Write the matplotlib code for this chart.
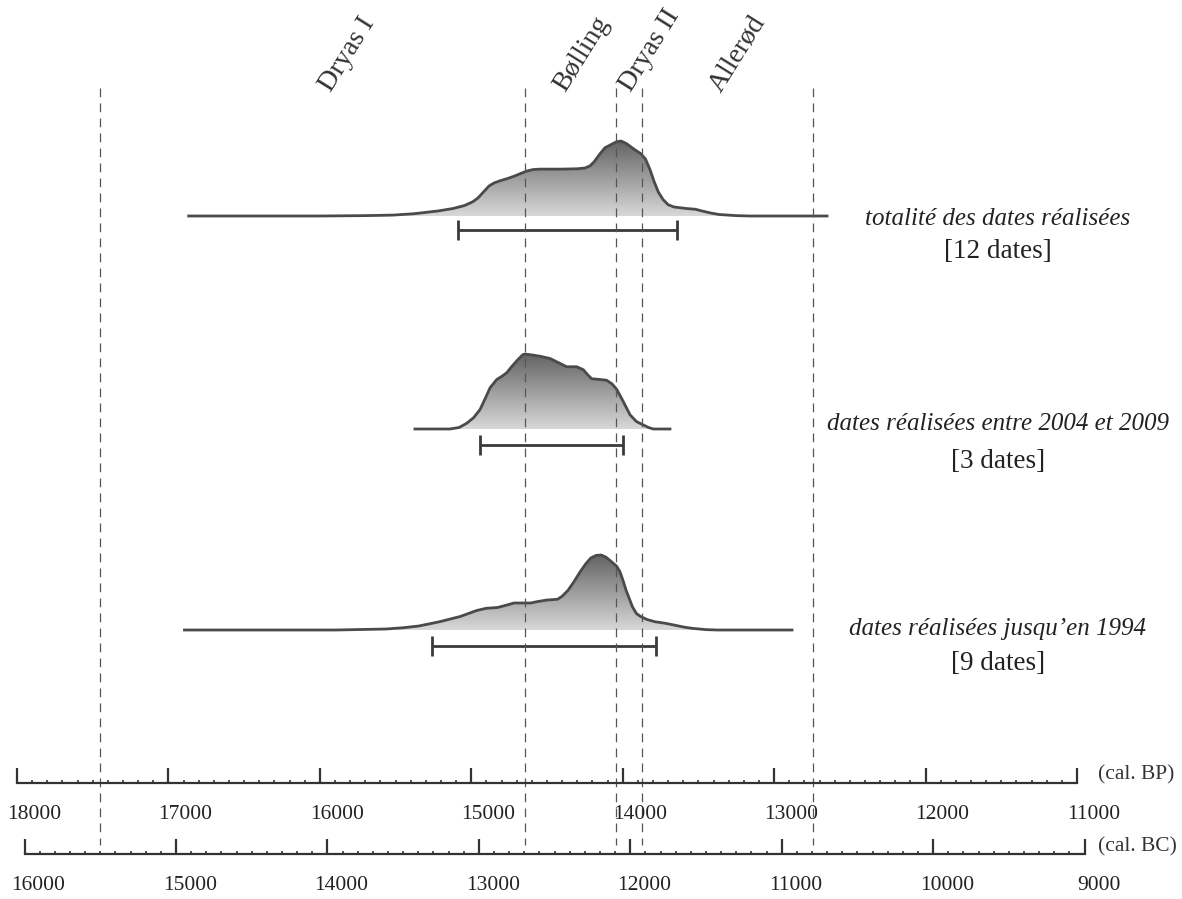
import numpy as np
import matplotlib.pyplot as plt
from matplotlib.colors import LinearSegmentedColormap
from matplotlib.patches import Polygon
from matplotlib.transforms import ScaledTranslation

plt.rcParams['font.family'] = ['Liberation Serif', 'DejaVu Serif']

# climatic periods, boundaries in years cal. BP
period_names = ['Dryas I', 'Bølling', 'Dryas II', 'Allerød']
period_label_bp = [15930, 14380, 13945, 13350]
boundaries_bp = [17450, 14645, 14045, 13875, 12745]

# summed probability curves (years cal. BP, relative density)
all_bp = [16866, 16000, 15700, 15517, 15380, 15220, 15120, 15044, 14990, 14956,
          14915, 14883, 14850, 14810, 14760, 14718, 14670, 14632, 14590, 14543,
          14400, 14300, 14249, 14215, 14190, 14150, 14117, 14070, 14040, 14011,
          13975, 13925, 13880, 13850, 13820, 13793, 13765, 13734, 13700, 13661,
          13580, 13520, 13483, 13420, 13364, 13250, 13160, 12651]
all_dens = [0, 0, 0.005, 0.012, 0.03, 0.067, 0.10, 0.14, 0.19, 0.24,
            0.33, 0.40, 0.44, 0.47, 0.50, 0.53, 0.57, 0.60, 0.62, 0.625,
            0.625, 0.63, 0.64, 0.67, 0.72, 0.83, 0.91, 0.96, 0.99, 1.0,
            0.965, 0.89, 0.83, 0.76, 0.62, 0.46, 0.32, 0.22, 0.15, 0.12,
            0.10, 0.09, 0.07, 0.04, 0.02, 0.005, 0, 0]

recent_bp = [15372, 15141, 15080, 15030, 14985, 14942, 14905, 14876, 14832, 14800,
             14766, 14730, 14690, 14660, 14645, 14610, 14592, 14546, 14480, 14420,
             14370, 14304, 14260, 14230, 14205, 14150, 14106, 14070, 14040, 14000,
             13952, 13910, 13864, 13830, 13798, 13688]
recent_dens = [0, 0, 0.02, 0.077, 0.15, 0.26, 0.42, 0.55, 0.66, 0.70,
               0.75, 0.84, 0.93, 0.99, 1.0, 0.99, 0.985, 0.97, 0.94, 0.88,
               0.83, 0.83, 0.79, 0.72, 0.67, 0.66, 0.65, 0.60, 0.53, 0.38,
               0.19, 0.10, 0.054, 0.02, 0, 0]

old_bp = [16894, 15895, 15566, 15450, 15347, 15210, 15073, 14964, 14900, 14827,
          14770, 14718, 14608, 14560, 14498, 14430, 14400, 14361, 14320, 14280,
          14245, 14211, 14175, 14142, 14110, 14074, 14040, 14019, 13998, 13978,
          13955, 13936, 13910, 13882, 13840, 13787, 13720, 13663, 13600, 13540,
          13450, 13377, 12882]
old_dens = [0, 0, 0.013, 0.03, 0.053, 0.11, 0.18, 0.26, 0.29, 0.30,
            0.33, 0.36, 0.36, 0.38, 0.40, 0.41, 0.45, 0.53, 0.65, 0.78,
            0.88, 0.96, 0.995, 1.0, 0.97, 0.91, 0.85, 0.78, 0.66, 0.53,
            0.41, 0.31, 0.22, 0.18, 0.14, 0.11, 0.09, 0.067, 0.04, 0.022,
            0.005, 0, 0]

# calibrated ranges under each curve
range_start = [15088, 14942, 15257]
range_end = [13644, 13996, 13778]

row_names = ['totalité des dates réalisées',
             'dates réalisées entre 2004 et 2009',
             'dates réalisées jusqu’en 1994']
row_counts = ['[12 dates]', '[3 dates]', '[9 dates]']

# layout (figure is drawn in pixel-like units on y)
row_base = [216, 429, 630]
row_height = 75
bar_y = [230, 445, 646]
name_y = [219, 424, 629]
count_y = [252, 461, 664]
text_x = 11522

ink = '#3a3a3a'
shade = LinearSegmentedColormap.from_list('shade', ['#646466', '#d8d8d8'])

fig = plt.figure(figsize=(11.82, 8.99), dpi=100)
ax = fig.add_axes([0, 0, 1, 1])


def draw_curve(years, dens, base):
    x = np.asarray(years, float)
    y = base - row_height * np.asarray(dens, float)
    verts = list(zip(x, y)) + [(x[-1], base), (x[0], base)]
    poly = Polygon(verts, closed=True, facecolor='none', edgecolor='none')
    ax.add_patch(poly)
    grad = np.linspace(0, 1, 256).reshape(-1, 1)
    im = ax.imshow(grad, cmap=shade, aspect='auto', origin='upper',
                   extent=[x.min(), x.max(), base, base - row_height], zorder=1)
    im.set_clip_path(poly)
    ax.plot(x, y, color='#4a4a4a', lw=2, zorder=3, solid_joinstyle='round')


curves = [(all_bp, all_dens), (recent_bp, recent_dens), (old_bp, old_dens)]
for (yrs, d), base in zip(curves, row_base):
    draw_curve(yrs, d, base)

# range bars
ax.hlines(bar_y, range_start, range_end, color=ink, lw=2, zorder=3)
for y, a, b in zip(bar_y, range_start, range_end):
    ax.vlines([a, b], y - 10, y + 10, color=ink, lw=2, zorder=3)

# period boundaries
ax.vlines(boundaries_bp, 88, 845, colors='#555555', lw=0.9,
          linestyles=(0, (7, 5)), zorder=4)
for name, xb in zip(period_names, period_label_bp):
    ax.text(xb, 93, name, rotation=58, rotation_mode='anchor', ha='left',
            va='baseline', fontsize=20, color='#333333')

for i in range(3):
    ax.text(text_x, name_y[i], row_names[i], style='italic', ha='center',
            va='center', fontsize=18, color='#222222')
    ax.text(text_x, count_y[i], row_counts[i], ha='center', va='center',
            fontsize=19.5, color='#222222')

ax.text(10861, 775, '(cal. BP)', ha='left', va='center', fontsize=15.5, color='#333333')
ax.text(10861, 847, '(cal. BC)', ha='left', va='center', fontsize=15.5, color='#333333')

ax.set_xlim(18112, 10307)
ax.set_ylim(899, 0)
ax.axis('off')


def time_axis(line_y, offset, lo, hi, shift):
    a = fig.add_axes([0, 1 - line_y / 899, 1, 0.03])
    a.set_xlim(18112 - offset, 10307 - offset)
    a.patch.set_visible(False)
    for s in ['top', 'left', 'right']:
        a.spines[s].set_visible(False)
    a.spines['bottom'].set_bounds(lo, hi)
    a.spines['bottom'].set_linewidth(1.6)
    a.spines['bottom'].set_color('#333333')
    a.set_yticks([])
    major = np.arange(lo, hi + 1, 1000)
    a.set_xticks(major, labels=[str(v) for v in major])
    a.set_xticks(np.arange(lo, hi + 1, 100), minor=True)
    a.tick_params(axis='x', which='major', direction='in', length=11, width=1.6,
                  pad=16, labelsize=15.5, color='#333333', labelcolor='#222222')
    a.tick_params(axis='x', which='minor', direction='in', length=2.5, width=1.2,
                  color='#333333')
    for lab in a.get_xticklabels():
        lab.set_transform(lab.get_transform() + ScaledTranslation(shift, 0, fig.dpi_scale_trans))
    return a


time_axis(783, 0, 11000, 18000, 0.17)
time_axis(854, 1950, 9000, 16000, 0.14)

fig.savefig('out.png', dpi=100)
